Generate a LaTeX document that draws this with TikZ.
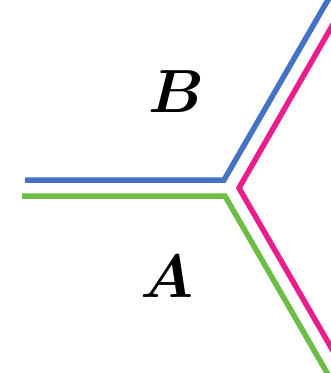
\documentclass[tikz,border=0pt]{standalone}
\usepackage{bm}
\usepackage{graphicx}
\definecolor{lblue}{RGB}{68,114,196}
\definecolor{lgreen}{RGB}{108,190,69}
\definecolor{lmag}{RGB}{233,30,140}
\begin{document}
\begin{tikzpicture}[x=1pt,y=-1pt,
  edge/.style={line width=5.5pt,line join=miter,line cap=butt},
  lab/.style={inner sep=0pt}]
\useasboundingbox (0,0) rectangle (331,373);
\clip (0,0) rectangle (331,373);
\coordinate (b0) at (25,180);
\coordinate (b1) at (224,180);
\coordinate (b2) at (330,-3.6);
\coordinate (g0) at (22,196);
\coordinate (g1) at (225,196);
\coordinate (g2) at (331,379.6);
\coordinate (m0) at (349,-3.5);
\coordinate (m1) at (239,188);
\coordinate (m2) at (349,378.5);
\draw[edge, lblue] (b0) -- (b1) -- (b2);
\draw[edge, lgreen] (g0) -- (g1) -- (g2);
\draw[edge, lmag] (m0) -- (m1) -- (m2);
\node[lab] (B) at (176,92) {\scalebox{6.1}{$\bm{B}$}};
\node[lab] (A) at (167,277) {\scalebox{6.1}{$\bm{A}$}};
\end{tikzpicture}
\end{document}
